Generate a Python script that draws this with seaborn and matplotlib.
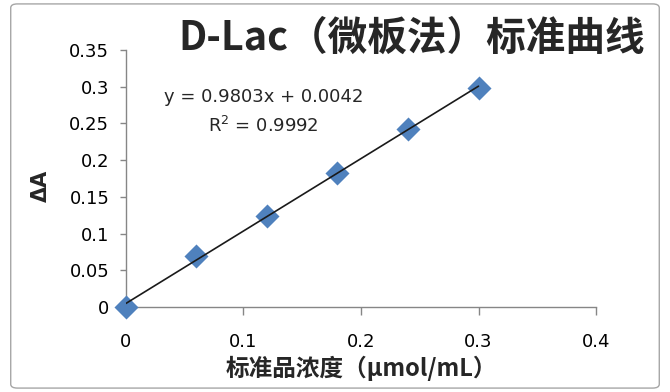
import numpy as np
import pandas as pd
import matplotlib
matplotlib.use("Agg")
import matplotlib.pyplot as plt
import seaborn as sns
from matplotlib.patches import FancyBboxPatch

# Data
conc = [0.0, 0.06, 0.12, 0.18, 0.24, 0.30]
delta_a = [0.0, 0.069, 0.124, 0.183, 0.243, 0.298]
x_ticks = [0, 0.1, 0.2, 0.3, 0.4]
x_tick_labels = ["0", "0.1", "0.2", "0.3", "0.4"]
y_ticks = [0, 0.05, 0.1, 0.15, 0.2, 0.25, 0.3, 0.35]
y_tick_labels = ["0", "0.05", "0.1", "0.15", "0.2", "0.25", "0.3", "0.35"]
title = "D-Lac（微板法）标准曲线"
x_label = "标准品浓度（μmol/mL）"
y_label = "ΔA"
eq_text = "y = 0.9803x + 0.0042"
r2_text = "R$^2$ = 0.9992"

df = pd.DataFrame({"conc": conc, "da": delta_a})

sns.set_theme(style="white")
plt.rcParams['font.family'] = ['DejaVu Sans', 'Noto Sans CJK SC']
plt.rcParams['mathtext.fontset'] = 'dejavusans'

fig = plt.figure(figsize=(6.7, 3.92), dpi=100)
ax = fig.add_axes([0.188, 0.2168, 0.7016, 0.6556])

# figure border
border = FancyBboxPatch((0.016, 0.01), 0.968, 0.98, boxstyle="round,pad=0,rounding_size=0.01",
                        transform=fig.transFigure, fill=False, edgecolor="#a6a6a6", linewidth=1.0)
fig.patches.append(border)

sns.scatterplot(data=df, x="conc", y="da", ax=ax, marker="D", s=150, color="#4F81BD",
                edgecolor="#4F81BD", linewidth=0, zorder=3, clip_on=False)
sns.regplot(data=df, x="conc", y="da", ax=ax, ci=None, scatter=False,
            line_kws=dict(color="#1a1a1a", linewidth=1.2, zorder=4))

ax.set_xlim(0, 0.4)
ax.set_ylim(0, 0.35)
ax.set_xticks(x_ticks)
ax.set_xticklabels(x_tick_labels)
ax.set_yticks(y_ticks)
ax.set_yticklabels(y_tick_labels)

for s in ["top", "right"]:
    ax.spines[s].set_visible(False)
for s in ["left", "bottom"]:
    ax.spines[s].set_color("#868686")
    ax.spines[s].set_linewidth(1.0)

ax.tick_params(axis="x", direction="out", length=6, width=1, color="#868686",
               labelsize=13, pad=13, bottom=True)
ax.tick_params(axis="y", direction="out", length=4, width=1, color="#868686",
               labelsize=13, pad=8, left=True)
for lab in ax.get_xticklabels() + ax.get_yticklabels():
    lab.set_color("black")

ax.set_xlabel(x_label, fontsize=17, fontweight="bold", family=['Noto Sans CJK SC', 'DejaVu Sans'], labelpad=3)
ax.set_ylabel(y_label, fontsize=15, fontweight="bold")
ax.yaxis.set_label_coords(-0.16, 0.47)

fig.text(0.962, 0.902, title, ha="right", va="center", fontsize=28.5, fontweight="bold",
         family=['Noto Sans CJK SC', 'DejaVu Sans'])

ax.text(0.117, 0.286, eq_text, ha="center", va="center", fontsize=13)
ax.text(0.117, 0.246, r2_text, ha="center", va="center", fontsize=13)

fig.savefig("out.png", dpi=100)
